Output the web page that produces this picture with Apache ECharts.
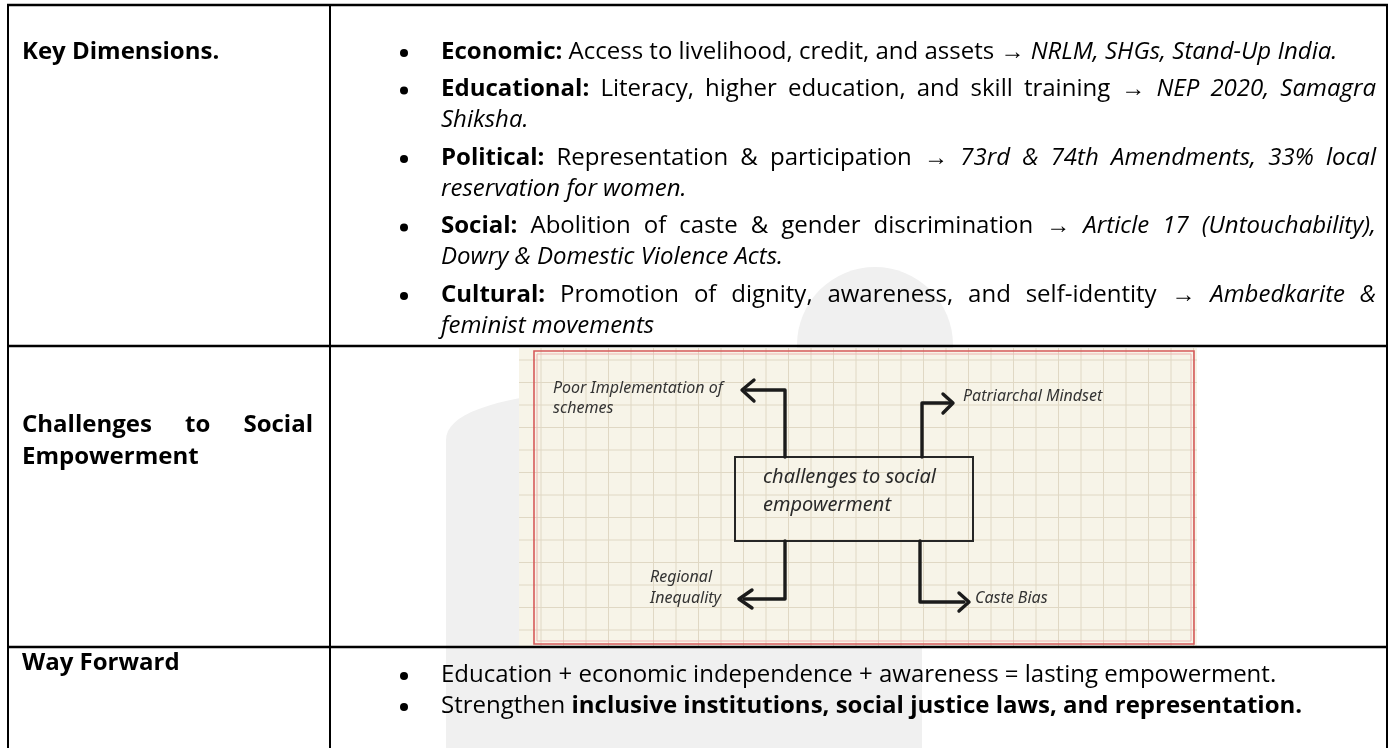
<!DOCTYPE html>
<html><head><meta charset="utf-8">
<script src="https://cdn.jsdelivr.net/npm/echarts@6/dist/echarts.min.js"></script>
<style>html,body{margin:0;padding:0;background:#fff}#c{width:1392px;height:748px}</style>
</head><body><div id="c"></div>
<script>
// ---------------- content ----------------
const rowLabels = ['Key Dimensions.', 'Challenges to Social', 'Empowerment', 'Way Forward'];
const dimHeads = ['Economic:', 'Educational:', 'Political:', 'Social:', 'Cultural:'];
const dimBodies = [
  'Access to livelihood, credit, and assets \u2192',
  'Literacy, higher education, and skill training \u2192',
  'Representation & participation \u2192',
  'Abolition of caste & gender discrimination \u2192',
  'Promotion of dignity, awareness, and self-identity \u2192'
];
const dimExamples = [
  'NRLM, SHGs, Stand-Up India.',
  'NEP 2020, Samagra Shiksha.',
  '73rd & 74th Amendments, 33% local reservation for women.',
  'Article 17 (Untouchability), Dowry & Domestic Violence Acts.',
  'Ambedkarite & feminist movements'
];
const wayPlain = ['Education + economic independence + awareness = lasting empowerment.', 'Strengthen'];
const wayBold = ['', 'inclusive institutions, social justice laws, and representation.'];
const diagramCentre = ['challenges to social', 'empowerment'];
const diagramLabels = [['Poor Implementation of', 'schemes'], ['Patriarchal Mindset'], ['Regional', 'Inequality'], ['Caste Bias']];

// ---------------- layout ----------------
const FONT = '"Open Sans", "Noto Sans", sans-serif';
const HAND = '"Noto Sans", sans-serif';
const FS = 24;
const ctx = document.createElement('canvas').getContext('2d');
function fontStr(b, i, fs, fam) { return (i ? 'italic ' : '') + (b ? 'bold ' : '') + fs + 'px ' + (fam || FONT); }
function measure(t, b, i, fs) { ctx.font = fontStr(b, i, fs); return ctx.measureText(t).width; }
function toWords(runs) {
  const words = [];
  runs.forEach(r => r.t.split(' ').filter(s => s.length).forEach(w => words.push({ t: w, b: r.b, i: r.i })));
  return words;
}
const els = [];
function txt(t, x, y, o) {
  o = o || {};
  els.push({ type: 'text', z: o.z || 10, style: {
    text: t, x: x, y: y, fill: o.fill || '#000', fontFamily: o.fam || FONT, fontSize: o.fs || FS,
    fontWeight: o.b ? 'bold' : 'normal', fontStyle: o.i ? 'italic' : 'normal', verticalAlign: 'middle', align: o.align || 'left'
  }});
}
function layLine(words, x0, x1, y, justify) {
  const widths = words.map(w => measure(w.t, w.b, w.i, FS));
  const total = widths.reduce((a, b) => a + b, 0);
  const sp = measure(' ', false, false, FS);
  const gap = (justify && words.length > 1) ? (x1 - x0 - total) / (words.length - 1) : sp;
  let x = x0;
  words.forEach((w, k) => { txt(w.t, x, y, { b: w.b, i: w.i }); x += widths[k] + gap; });
}
function line(x1, y1, x2, y2, lw, col, z) {
  els.push({ type: 'line', z: z || 20, shape: { x1, y1, x2, y2 }, style: { stroke: col || '#000', lineWidth: lw || 2 } });
}
function poly(pts, lw, col, z) {
  els.push({ type: 'polyline', z: z || 30, shape: { points: pts }, style: { stroke: col || '#1b1b1b', lineWidth: lw || 3.4, lineJoin: 'round', lineCap: 'round', fill: null } });
}
function quad(p0, p1, p2, n) {
  const out = [];
  for (let k = 0; k <= n; k++) { const t = k / n, a = (1 - t) * (1 - t), b = 2 * (1 - t) * t, c = t * t;
    out.push([a * p0[0] + b * p1[0] + c * p2[0], a * p0[1] + b * p1[1] + c * p2[1]]); }
  return out;
}

// watermark (very light)
const WM = '#f0f0f0';
els.push({ type: 'rect', z: 1, shape: { x: 446, y: 647, width: 476, height: 101 }, style: { fill: WM } });
els.push({ type: 'polygon', z: 1, shape: { points: [[446, 748]].concat(quad([446, 440], [446, 412], [520, 398], 12)).concat([[520, 748]]) }, style: { fill: WM } });
els.push({ type: 'circle', z: 1, shape: { cx: 875, cy: 345, r: 78 }, style: { fill: WM } });

// table borders
const L = 8, R = 1387, C = 330, T = 5, R1 = 346, R2 = 647;
line(L - 1, T, R + 1, T, 2.5);
line(L, T, L, 748, 2);
line(R, T, R, 748, 2);
line(C, T, C, 748, 2);
line(L - 1, R1, R + 1, R1, 2.5);
line(L - 1, R2, R + 1, R2, 2.5);

// left column labels
const LX0 = 22, LX1 = 313;
const E = 52;
layLine(toWords([{ t: rowLabels[0], b: true }]), LX0, LX1, E, false);
layLine(toWords([{ t: rowLabels[1], b: true }]), LX0, LX1, 425, true);
layLine(toWords([{ t: rowLabels[2], b: true }]), LX0, LX1, 457, false);
layLine(toWords([{ t: rowLabels[3], b: true }]), LX0, LX1, 663, false);

// key dimension bullets
const BX = 404, TX0 = 441, TX1 = 1376;
const LH = 31, PG = 37.5;
const wrapTail = [0, 1, 3, 5, 2];
let y = E;
dimHeads.forEach((h, k) => {
  const words = toWords([{ t: h, b: true }, { t: dimBodies[k] }, { t: dimExamples[k], i: true }]);
  els.push({ type: 'circle', z: 10, shape: { cx: BX, cy: y + 1, r: 4 }, style: { fill: '#000' } });
  const n = wrapTail[k];
  if (n === 0) { layLine(words, TX0, TX1, y, false); y += PG; }
  else {
    layLine(words.slice(0, words.length - n), TX0, TX1, y, true);
    layLine(words.slice(words.length - n), TX0, TX1, y + LH, false);
    y += LH + PG;
  }
});

// way forward bullets
[675, 706].forEach((yy, k) => {
  els.push({ type: 'circle', z: 10, shape: { cx: BX, cy: yy + 1, r: 4 }, style: { fill: '#000' } });
  layLine(toWords([{ t: wayPlain[k] }, { t: wayBold[k], b: true }]), TX0, TX1, yy, false);
});

// ---------------- diagram ----------------
const DX0 = 519, DX1 = 1197, DY0 = 348, DY1 = 646;
els.push({ type: 'rect', z: 5, shape: { x: DX0, y: DY0, width: DX1 - DX0, height: DY1 - DY0 }, style: { fill: '#f7f4e8' } });
const G = 22.5;
for (let x = 901; x >= DX0; x -= G) line(x, DY0, x, DY1, 1, '#e0d8c4', 6);
for (let x = 901 + G; x <= DX1; x += G) line(x, DY0, x, DY1, 1, '#e0d8c4', 6);
for (let yy = 360; yy >= DY0; yy -= G) line(DX0, yy, DX1, yy, 1, '#e0d8c4', 6);
for (let yy = 360 + G; yy <= DY1; yy += G) line(DX0, yy, DX1, yy, 1, '#e0d8c4', 6);
els.push({ type: 'rect', z: 7, shape: { x: 534, y: 351, width: 660, height: 293 }, style: { fill: null, stroke: '#d65a5a', lineWidth: 1.6 } });
els.push({ type: 'rect', z: 7, shape: { x: 537, y: 354, width: 654, height: 287 }, style: { fill: null, stroke: '#eeb4b0', lineWidth: 1 } });

els.push({ type: 'rect', z: 25, shape: { x: 735, y: 457, width: 238, height: 84 }, style: { fill: null, stroke: '#262626', lineWidth: 2 } });
txt(diagramCentre[0], 763, 477, { fam: HAND, fs: 20, i: true, fill: '#2a2a2a', z: 30 });
txt(diagramCentre[1], 763, 505, { fam: HAND, fs: 20, i: true, fill: '#2a2a2a', z: 30 });

poly([[785, 457], [785, 390], [746, 390]]);
poly([[754, 380], [742, 390], [754, 401]]);
poly([[922, 457], [922, 403], [950, 403]]);
poly([[943, 394], [953, 403], [943, 413]]);
poly([[785, 541], [785, 599], [744, 599]]);
poly([[752, 590], [739, 599], [752, 608]]);
poly([[920, 541], [920, 602], [964, 602]]);
poly([[959, 593], [969, 602], [959, 611]]);

const hand = { fam: HAND, fs: 16, i: true, fill: '#333', z: 30 };
txt(diagramLabels[0][0], 553, 388, hand);
txt(diagramLabels[0][1], 553, 408, hand);
txt(diagramLabels[1][0], 963, 396, hand);
txt(diagramLabels[2][0], 650, 577, hand);
txt(diagramLabels[2][1], 650, 598, hand);
txt(diagramLabels[3][0], 975, 598, hand);

const chart = echarts.init(document.getElementById('c'), null, { renderer: 'canvas' });
chart.setOption({ animation: false, backgroundColor: '#ffffff', graphic: { elements: els } });
</script>
</body></html>
